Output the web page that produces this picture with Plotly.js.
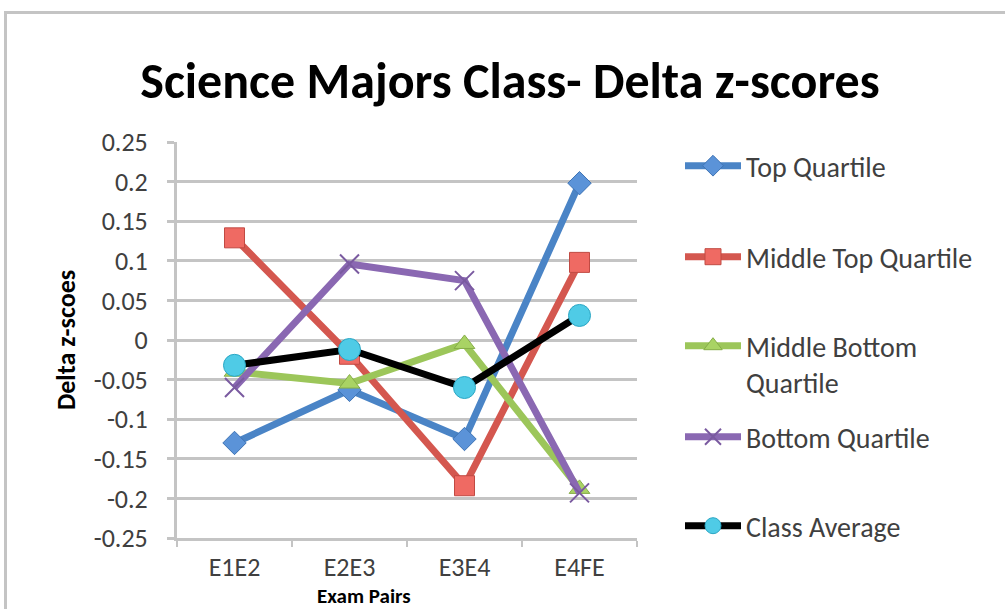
<!DOCTYPE html>
<html>
<head>
<meta charset="utf-8">
<script src="https://cdn.plot.ly/plotly-3.0.1.min.js"></script>
<style>
  html, body { margin: 0; padding: 0; background: #ffffff; }
  #frame {
    position: absolute; left: 4px; top: 11px; width: 1010px; height: 610px;
    border-left: 3px solid #c4c4c4; border-top: 3px solid #c4c4c4;
    box-sizing: border-box;
  }
  #chart { position: absolute; left: 0; top: 0; width: 1005px; height: 609px; }
</style>
</head>
<body>
<div id="frame"></div>
<div id="chart"></div>
<script>
// Exam pairs on the category axis
const examPairs = ["E1E2", "E2E3", "E3E4", "E4FE"];

// Change in z-score between consecutive exams, per student group
const topQuartile          = [-0.130, -0.063, -0.125,  0.198];
const middleTopQuartile    = [ 0.129, -0.018, -0.184,  0.098];
const middleBottomQuartile = [-0.040, -0.055, -0.005, -0.188];
const bottomQuartile       = [-0.060,  0.096,  0.075, -0.193];
const classAverage         = [-0.032, -0.012, -0.060,  0.031];

// Y-axis ticks
const yTickVals = [0.25, 0.2, 0.15, 0.1, 0.05, 0, -0.05, -0.1, -0.15, -0.2, -0.25];
const yTickText = ["0.25", "0.2", "0.15", "0.1", "0.05", "0", "-0.05", "-0.1", "-0.15", "-0.2", "-0.25"];

const font = "Carlito, Calibri, 'Open Sans', sans-serif";
const textGrey = "#404040";

function series(name, y, lineColor, marker, legendId) {
  return {
    type: "scatter", mode: "lines+markers", name: name, x: examPairs, y: y,
    legend: legendId, showlegend: true,
    line: { color: lineColor, width: 7 },
    marker: marker
  };
}

const traces = [
  series("Top Quartile", topQuartile, "#4a84c6",
    { symbol: "diamond", size: 18, color: "#5b93d8", line: { color: "#3f74b5", width: 1 } }, "legend"),
  series("Middle Top Quartile", middleTopQuartile, "#d4574f",
    { symbol: "square", size: 20, color: "#ef6a63", line: { color: "#c04a43", width: 1 } }, "legend2"),
  series("Middle Bottom<br>Quartile", middleBottomQuartile, "#9cc65a",
    { symbol: "triangle-up", size: 18, color: "#a9d364", line: { color: "#86ad48", width: 1 } }, "legend3"),
  series("Bottom Quartile", bottomQuartile, "#8a68b2",
    { symbol: "x-thin", size: 19, color: "#7a5aa0", line: { color: "#7a5aa0", width: 2 } }, "legend4"),
  series("Class Average", classAverage, "#000000",
    { symbol: "circle", size: 22, color: "#4fcbe6", line: { color: "#2aa6c4", width: 1 } }, "legend5")
];

// One legend box per series so the entries can be spaced out down the right side
function legendAt(yPx, extra) {
  return Object.assign({
    visible: true,
    x: 680 / 1005, xref: "container", xanchor: "left",
    y: 1 - yPx / 609, yref: "container", yanchor: "middle",
    font: { family: font, size: 28, color: textGrey },
    itemwidth: 56, bgcolor: "rgba(0,0,0,0)", borderwidth: 0
  }, extra || {});
}

const layout = {
  width: 1005, height: 609,
  showlegend: true,
  paper_bgcolor: "rgba(0,0,0,0)", plot_bgcolor: "#ffffff",
  margin: { l: 177, r: 368, t: 142, b: 71 },
  font: { family: font, color: textGrey },
  title: {
    text: "<b>Science Majors Class- Delta z-scores</b>",
    font: { family: font, size: 50, color: "#000000" },
    x: 510 / 1005, xanchor: "center", xref: "container",
    y: 1 - 80 / 609, yanchor: "middle", yref: "container"
  },
  xaxis: {
    type: "category", range: [-0.5, 3.5],
    showgrid: false, showline: true, linecolor: "#c4c4c4", linewidth: 3,
    ticks: "outside", tickson: "boundaries", ticklen: 6, tickwidth: 2, tickcolor: "#c4c4c4",
    tickfont: { family: font, size: 26, color: textGrey },
    ticklabelstandoff: 4,
    zeroline: false
  },
  yaxis: {
    range: [-0.25, 0.25], tickvals: yTickVals, ticktext: yTickText,
    showgrid: true, gridcolor: "#c4c4c4", gridwidth: 3,
    showline: true, linecolor: "#c4c4c4", linewidth: 3,
    ticks: "outside", ticklen: 7, tickwidth: 3, tickcolor: "#c4c4c4",
    tickfont: { family: font, size: 26, color: textGrey },
    ticklabelstandoff: 14,
    zeroline: false,
    title: { text: "<b>Delta z-scoes</b>", font: { family: font, size: 26, color: "#000000" }, standoff: 11 }
  },
  legend: legendAt(166),
  legend2: legendAt(257),
  legend3: legendAt(364, { valign: "top" }),
  legend4: legendAt(437),
  legend5: legendAt(526),
  annotations: [{
    text: "<b>Exam Pairs</b>", showarrow: false,
    xref: "paper", yref: "paper",
    x: (364 - 177) / 460, y: (538 - 596) / 396, xanchor: "center", yanchor: "middle",
    font: { family: font, size: 21, color: "#000000" }
  }]
};

Plotly.newPlot("chart", traces, layout, { displayModeBar: false, staticPlot: true });
</script>
</body>
</html>
